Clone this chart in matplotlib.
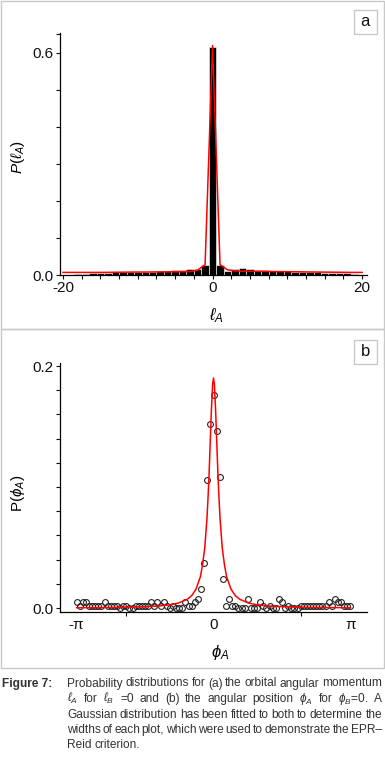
import numpy as np
import matplotlib.pyplot as plt
from matplotlib import font_manager
from matplotlib.patches import Rectangle

# fonte estreita (parecida com a do artigo), se existir
names = {f.name for f in font_manager.fontManager.ttflist}
FONT = 'Liberation Sans Narrow' if 'Liberation Sans Narrow' in names else 'Liberation Sans'
plt.rcParams['font.family'] = [FONT, 'DejaVu Sans']
plt.rcParams['mathtext.fontset'] = 'custom'
plt.rcParams['mathtext.rm'] = FONT
plt.rcParams['mathtext.it'] = FONT + ':italic'
plt.rcParams['mathtext.bf'] = FONT + ':bold'
plt.rcParams['axes.unicode_minus'] = False

# ---- dados (a): distribuicao de l_A ----
ell = list(range(-18, 20))
p_ell = [0.004, 0.004, 0.005, 0.005, 0.006, 0.008, 0.007, 0.007, 0.008, 0.009,
         0.009, 0.010, 0.011, 0.013, 0.014, 0.015, 0.016, 0.027, 0.617, 0.027,
         0.010, 0.016, 0.018, 0.016, 0.014, 0.013, 0.012, 0.011, 0.010, 0.009,
         0.008, 0.007, 0.007, 0.006, 0.006, 0.005, 0.005, 0.004]
fit_ell_x = list(range(-20, 21))
fit_ell_y = [0.007, 0.007, 0.007, 0.007, 0.007, 0.007, 0.0072, 0.0074, 0.0076, 0.0078,
             0.008, 0.008, 0.0082, 0.0084, 0.0086, 0.0088, 0.009, 0.0095, 0.013, 0.028,
             0.62,
             0.028, 0.014, 0.011, 0.0105, 0.0102, 0.010, 0.0098, 0.0095, 0.0092, 0.009,
             0.0088, 0.0085, 0.0082, 0.008, 0.0078, 0.0076, 0.0074, 0.0072, 0.007, 0.007]

# ---- dados (b): distribuicao de phi_A ----
phi = np.linspace(-np.pi, np.pi, 89)
p_phi = [0.0047, 0.0019, 0.0047, 0.0047, 0.0019, 0.0019, 0.0019, 0.0019, 0.0019, 0.0047,
         0.0019, 0.0019, 0.0019, 0.0019, 0.0, 0.0019, 0.0019, 0.0, 0.0, 0.0019,
         0.0019, 0.0019, 0.0019, 0.0019, 0.0047, 0.0019, 0.0047, 0.0019, 0.0047, 0.0019,
         0.0, 0.0019, 0.0, 0.0, 0.0, 0.0050, 0.0019, 0.0019, 0.0047,
         0.0074, 0.0157, 0.037, 0.1055, 0.152, 0.176, 0.146, 0.108, 0.024, 0.0019, 0.0074,
         0.0019, 0.0019, 0.0, 0.0, 0.0, 0.0074, 0.0, 0.0, 0.0, 0.0047,
         0.0019, 0.0, 0.0019, 0.0, 0.0, 0.0074, 0.0047, 0.0, 0.0019, 0.0,
         0.0, 0.0, 0.0019, 0.0019, 0.0019, 0.0019, 0.0019, 0.0019, 0.0019, 0.0019,
         0.0019, 0.0047, 0.0019, 0.0074, 0.0047, 0.0047, 0.0019, 0.0019, 0.0019]
fit_phi_x = [-3.14, -2.5, -2.0, -1.6, -1.3, -1.0, -0.8, -0.6, -0.5, -0.4, -0.3, -0.25,
             -0.2, -0.15, -0.12, -0.1, -0.08, -0.05, -0.02, 0.0,
             0.02, 0.05, 0.08, 0.1, 0.12, 0.15, 0.2, 0.25, 0.3, 0.4, 0.5, 0.6, 0.8,
             1.0, 1.3, 1.6, 2.0, 2.5, 3.14]
fit_phi_y = [0.0003, 0.00044, 0.0007, 0.0011, 0.0016, 0.0027, 0.0042, 0.0073, 0.0103, 0.0157,
             0.026, 0.036, 0.050, 0.074, 0.095, 0.112, 0.132, 0.162, 0.185, 0.190,
             0.185, 0.162, 0.132, 0.112, 0.095, 0.074, 0.050, 0.036, 0.026, 0.0157, 0.0103,
             0.0073, 0.0042, 0.0027, 0.0016, 0.0011, 0.0007, 0.00044, 0.0003]

caption = [
    ['Probability', 'distributions', 'for', '(a)', 'the', 'orbital', 'angular', 'momentum'],
    [r'$\ell_A$', 'for', r'$\ell_B$', '=0', 'and', '(b)', 'the', 'angular', 'position',
     r'$\phi_A$', 'for', r'$\phi_B$=0.', 'A'],
    ['Gaussian', 'distribution', 'has', 'been', 'fitted', 'to', 'both', 'to', 'determine', 'the'],
    ['widths', 'of', 'each', 'plot,', 'which', 'were', 'used', 'to', 'demonstrate', 'the', 'EPR–'],
    ['Reid', 'criterion.'],
]

W, H = 385, 765
fig = plt.figure(figsize=(W / 100, H / 100), dpi=100)
GRAY = '#c8c8c8'


def fx(px):
    return px / W


def fy(py):
    return 1 - py / H


def style(ax):
    for s in ['top', 'right']:
        ax.spines[s].set_visible(False)
    for s in ['left', 'bottom']:
        ax.spines[s].set_linewidth(0.9)
    ax.tick_params(which='both', direction='out', length=3, width=0.8,
                   labelsize=11, pad=1.5, colors='#111')
    ax.patch.set_alpha(0)


# caixas dos paineis
fig.add_artist(Rectangle((fx(0.5), fy(329)), fx(383), 328 / H, transform=fig.transFigure,
                         fill=False, ec=GRAY, lw=1))
fig.add_artist(Rectangle((fx(0.5), fy(668)), fx(383), 339 / H, transform=fig.transFigure,
                         fill=False, ec=GRAY, lw=1))

# ---- painel a ----
ax1 = fig.add_axes([fx(60), fy(275), fx(307), 242 / H])
ax1.bar(ell, p_ell, width=1.0, color='black', edgecolor='white', linewidth=0.4)
ax1.plot(fit_ell_x, fit_ell_y, color='red', lw=1.1)
ax1.set_xlim(-20.4, 20.65)
ax1.set_ylim(0, 0.654)
ax1.set_xticks([-20, 0, 20])
ax1.set_xticklabels(['-20', '0', '20'])
ax1.set_xticks(np.arange(-20, 20.1, 2.5), minor=True)
ax1.set_yticks([0, 0.6])
ax1.set_yticklabels(['0.0', '0.6'])
ax1.set_yticks([0.1, 0.2, 0.3, 0.4, 0.5, 0.65], minor=True)
style(ax1)
fig.text(fx(216), fy(316), r'$\ell_A$', ha='center', va='center', fontsize=12)
fig.text(fx(18), fy(157), r'$P(\ell_A)$', ha='center', va='center', fontsize=11, rotation=90)

# ---- painel b ----
ax2 = fig.add_axes([fx(60), fy(611.7), fx(307), 248.7 / H])
ax2.plot(phi, p_phi, 'o', mfc='none', mec='#222', mew=0.8, ms=4.2)
ax2.plot(fit_phi_x, fit_phi_y, color='red', lw=1.1)
ax2.set_xlim(-3.52, 3.52)
ax2.set_ylim(-0.003, 0.2025)
ax2.set_xticks([-np.pi, 0, np.pi])
ax2.set_xticklabels(['-π', '0', 'π'])
ax2.set_xticks([-2, 0, 2], minor=True)
ax2.set_yticks([0, 0.2])
ax2.set_yticklabels(['0.0', '0.2'])
ax2.set_yticks(np.arange(0.02, 0.19, 0.02), minor=True)
style(ax2)
ax2.tick_params(axis='x', which='major', length=0, pad=4.5)
fig.text(fx(220), fy(652), r'$\phi_A$', ha='center', va='center', fontsize=12)
fig.text(fx(18), fy(493), r'P($\phi_A$)', ha='center', va='center', fontsize=11, rotation=90)

# etiquetas a / b
for lab, top in [('a', 10), ('b', 340)]:
    fig.add_artist(Rectangle((fx(353.5), fy(top + 24)), fx(23.5), 24 / H,
                             transform=fig.transFigure, fill=False, ec=GRAY, lw=1))
    fig.text(fx(365.3), fy(top + 12), lab, ha='center', va='center', fontsize=12, color='#111')

# ---- legenda (justificada) ----
fig.text(fx(2), fy(686.5), 'Figure 7:', ha='left', va='baseline', fontsize=8.6,
         fontweight='bold', color='#333')
renderer = fig.canvas.get_renderer()
x0, x1 = 67, 382
for i, words in enumerate(caption):
    ypx = 686.5 + i * 15.5
    objs = [fig.text(0, fy(ypx), w, ha='left', va='baseline', fontsize=8.6, color='#333')
            for w in words]
    widths = [o.get_window_extent(renderer).width for o in objs]
    if i < len(caption) - 1:
        gap = (x1 - x0 - sum(widths)) / (len(words) - 1)
    else:
        gap = 2.8
    x = x0
    for o, w in zip(objs, widths):
        o.set_x(fx(x))
        x += w + gap

fig.savefig('out.png', dpi=100)
